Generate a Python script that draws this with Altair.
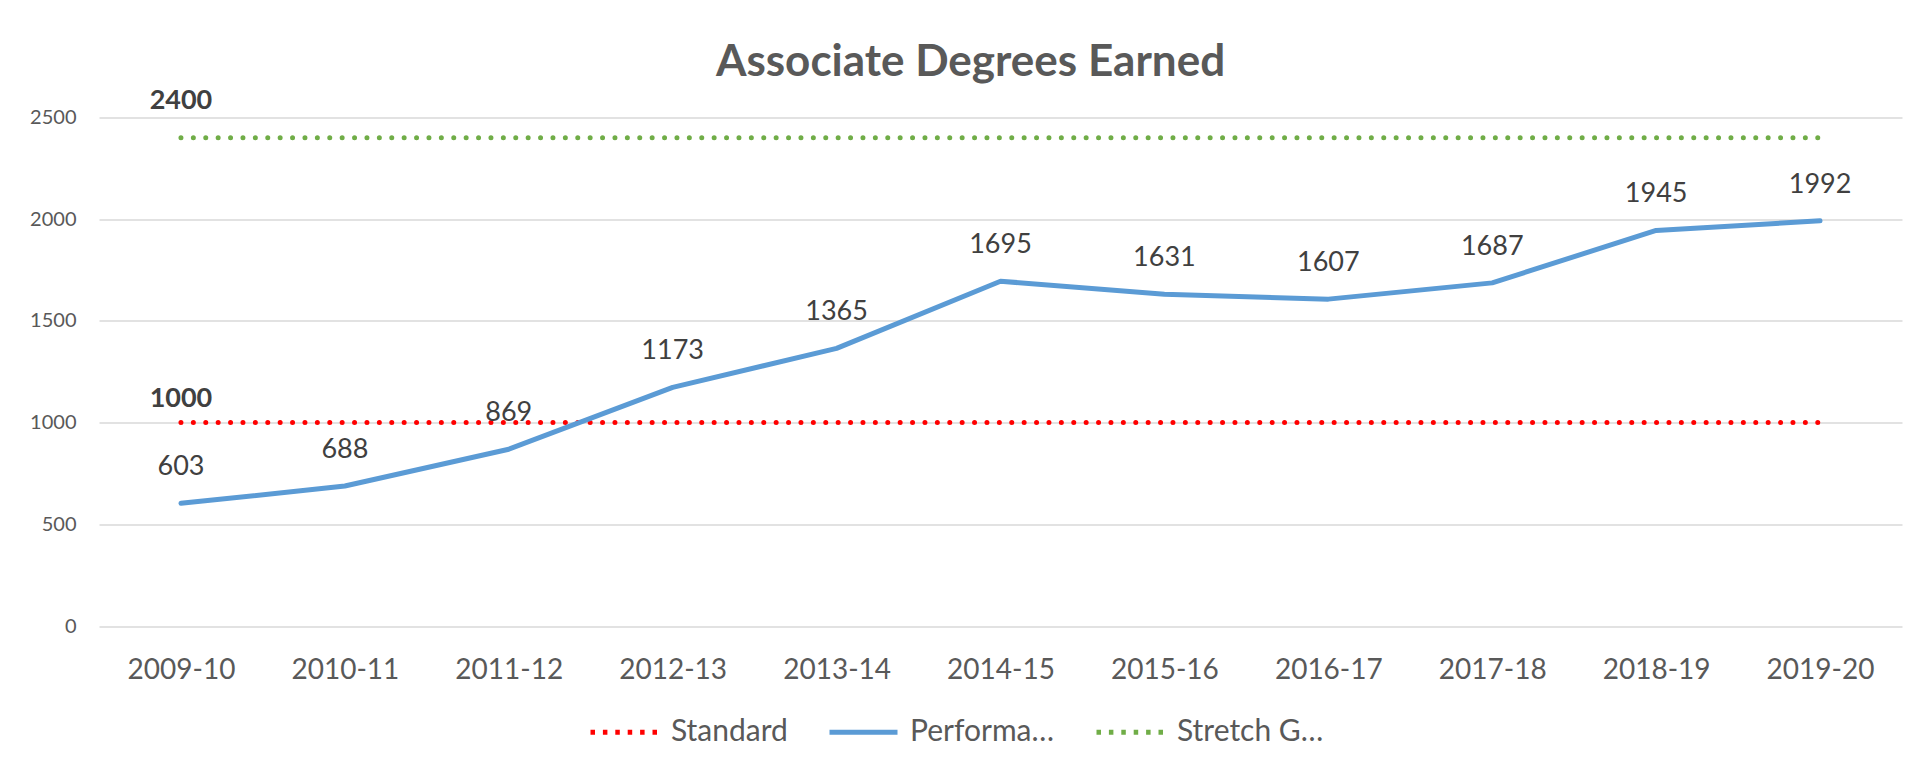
import altair as alt
import pandas as pd

years = ["2009-10", "2010-11", "2011-12", "2012-13", "2013-14", "2014-15",
         "2015-16", "2016-17", "2017-18", "2018-19", "2019-20"]
performance = [603, 688, 869, 1173, 1365, 1695, 1631, 1607, 1687, 1945, 1992]
standard = [1000, 1000, 1000, 1000, 1000, 1000, 1000, 1000, 1000, 1000, 1000]
stretch_goal = [2400, 2400, 2400, 2400, 2400, 2400, 2400, 2400, 2400, 2400, 2400]
series_names = ["Standard", "Performance", "Stretch Goal"]
series_colors = ["#FF0000", "#5B9BD5", "#70AD47"]
legend_dashes = [[4.5, 7.9], [1, 0], [4.5, 7.9]]
y_ticks = [0, 500, 1000, 1500, 2000, 2500]

rows = []
for name, vals in zip(series_names, [standard, performance, stretch_goal]):
    for yr, v in zip(years, vals):
        rows.append({"year": yr, "value": v, "series": name})
df = pd.DataFrame(rows)

std_line_df = df[df["series"] == "Standard"]
perf_df = df[df["series"] == "Performance"]
goal_line_df = df[df["series"] == "Stretch Goal"]
std_df = pd.DataFrame({"year": [years[0]], "value": [standard[0]]})
goal_df = pd.DataFrame({"year": [years[0]], "value": [stretch_goal[0]]})

FONT = "Lato"

x_enc = alt.X(
    "year:N", sort=years,
    scale=alt.Scale(domain=years, padding=0.5),
    axis=alt.Axis(title=None, grid=False, domain=False, ticks=False, tickSize=0,
                  labelAngle=0, labelFontSize=28, labelColor="#595959",
                  labelFont=FONT, labelPadding=30),
)
y_enc = alt.Y(
    "value:Q",
    scale=alt.Scale(domain=[0, 2500], nice=False),
    axis=alt.Axis(title=None, values=y_ticks, format="d", grid=True, gridColor="#D9D9D9",
                  gridWidth=1.5, domain=False, ticks=False, tickSize=0,
                  labelFontSize=20, labelColor="#595959", labelFont=FONT,
                  labelPadding=23),
)
x_plain = alt.X("year:N", sort=years)

legend = alt.Legend(
    title=None, orient="none", legendX=489, legendY=578, direction="horizontal",
    columns=3, symbolType="stroke", symbolSize=4624, symbolStrokeWidth=5,
    labelFontSize=30, labelColor="#595959", labelFont=FONT,
    labelOffset=10, columnPadding=31, padding=0,
)

std_line = alt.Chart(std_line_df).mark_line(
    strokeWidth=5, strokeCap="round", strokeDash=[0, 12.4], color=series_colors[0]
).encode(x=x_enc, y=y_enc)

perf_line = alt.Chart(perf_df).mark_line(
    strokeWidth=5, strokeCap="round", strokeJoin="round", color=series_colors[1]
).encode(x=x_plain, y="value:Q")

goal_line = alt.Chart(goal_line_df).mark_line(
    strokeWidth=5, strokeCap="round", strokeDash=[0, 12.4], color=series_colors[2]
).encode(x=x_plain, y="value:Q")

# legend-only layer: no rows pass the filter, the legend comes from the scale domain
legend_layer = alt.Chart(df).transform_filter("false").mark_line(strokeWidth=5).encode(
    x=x_plain,
    y="value:Q",
    color=alt.Color("series:N", sort=series_names,
                    scale=alt.Scale(domain=series_names, range=series_colors),
                    legend=legend),
    strokeDash=alt.StrokeDash("series:N", sort=series_names,
                              scale=alt.Scale(domain=series_names, range=legend_dashes),
                              legend=legend),
)

perf_labels = alt.Chart(perf_df).mark_text(
    dy=-36, fontSize=27, color="#404040", font=FONT, baseline="middle"
).encode(x=x_plain, y="value:Q", text="value:Q")

std_label = alt.Chart(std_df).mark_text(
    dy=-24, fontSize=27, fontWeight="bold", color="#404040", font=FONT, baseline="middle"
).encode(x=x_plain, y="value:Q", text="value:Q")

goal_label = alt.Chart(goal_df).mark_text(
    dy=-37, fontSize=27, fontWeight="bold", color="#404040", font=FONT, baseline="middle"
).encode(x=x_plain, y="value:Q", text="value:Q")

chart = alt.layer(std_line, perf_line, goal_line, legend_layer,
                  perf_labels, std_label, goal_label).properties(
    width=1803,
    height=508.5,
    title=alt.TitleParams("Associate Degrees Earned", fontSize=44, fontWeight="bold",
                          color="#595959", font=FONT, anchor="middle", dx=-30, dy=2),
    autosize=alt.AutoSizeParams(type="none"),
    padding={"left": 91, "top": 109.5, "right": 18, "bottom": 120},
    background="white",
).configure_view(stroke=None)

chart.save("out.html", embed_options={"renderer": "svg", "actions": False})
